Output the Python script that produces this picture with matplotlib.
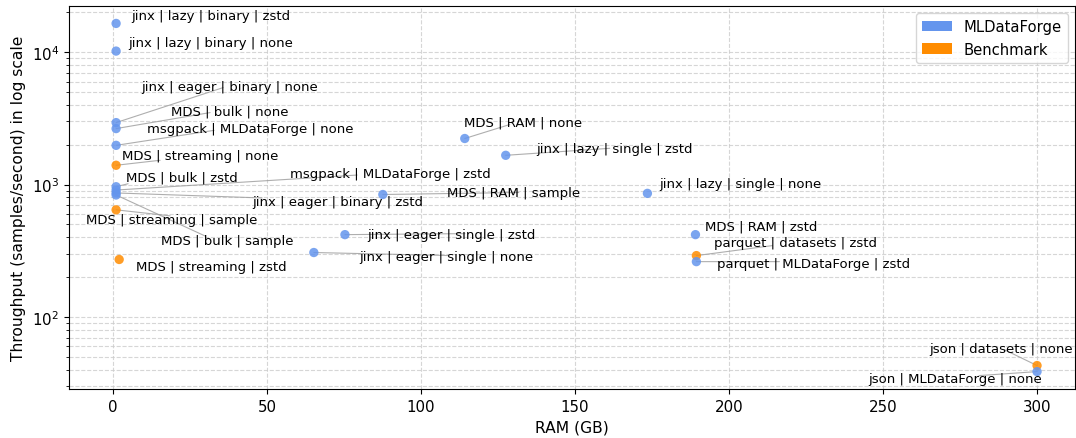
import matplotlib
matplotlib.use("Agg")
import matplotlib.pyplot as plt
from matplotlib.patches import Patch

# Loader configurations: label, RAM used (GB), throughput (samples/s), source
labels = [
    "jinx | lazy | binary | zstd",
    "jinx | lazy | binary | none",
    "jinx | eager | binary | none",
    "MDS | bulk | none",
    "msgpack | MLDataForge | none",
    "MDS | streaming | none",
    "MDS | bulk | zstd",
    "msgpack | MLDataForge | zstd",
    "jinx | eager | binary | zstd",
    "MDS | bulk | sample",
    "MDS | streaming | sample",
    "MDS | streaming | zstd",
    "MDS | RAM | none",
    "jinx | lazy | single | zstd",
    "MDS | RAM | sample",
    "jinx | lazy | single | none",
    "jinx | eager | single | zstd",
    "jinx | eager | single | none",
    "MDS | RAM | zstd",
    "parquet | datasets | zstd",
    "parquet | MLDataForge | zstd",
    "json | datasets | none",
    "json | MLDataForge | none",
]
ram_gb = [1.0, 1.0, 1.0, 1.0, 1.0, 1.0, 1.0, 1.0, 1.0, 1.0, 1.0, 2.0,
          114.2, 127.5, 87.6, 173.5, 75.3, 65.2, 189.1, 189.4, 189.4, 300.0, 300.0]
throughput = [16500, 10200, 2940, 2650, 1980, 1400, 964, 910, 865, 835, 645, 272,
              2230, 1665, 842, 859, 419, 307, 419, 291, 262, 43.0, 38.7]
source = ["MLDataForge", "MLDataForge", "MLDataForge", "MLDataForge", "MLDataForge",
          "Benchmark", "MLDataForge", "MLDataForge", "MLDataForge", "MLDataForge",
          "Benchmark", "Benchmark", "MLDataForge", "MLDataForge", "MLDataForge",
          "MLDataForge", "MLDataForge", "MLDataForge", "MLDataForge", "Benchmark",
          "MLDataForge", "Benchmark", "MLDataForge"]

colors = {"MLDataForge": "cornflowerblue", "Benchmark": "darkorange"}

# Label placement (pixel offsets from each point) and leader-line end offsets
label_offsets = [(95, 8), (95, 9), (114, 36), (114, 18), (134, 17), (84, 10),
                 (66, 10), (274, 17), (222, -9), (111, -46), (56, -10), (92, -7),
                 (58, 17), (109, 7), (131, 2), (93, 10), (106, 0), (132, -4),
                 (66, 9), (99, 13), (117, -2), (-36, 17), (-82, -7)]
leader_ends = [None, None, (107, 35), (94, 16), (98, 15), (44, 5),
               (12, 3), (241, 15), (146, -5), (89, -41), (54, -6), None,
               (45, 14), (104, 7), (136, 2), None, (120, 1), (134, -3),
               None, (76, 10), (83, 0), (-33, 16), (-58, -4)]

fig = plt.figure(figsize=(10.76, 4.39), dpi=100)
ax = fig.add_axes([0.0641, 0.1116, 0.9349, 0.8724])

ax.scatter(ram_gb, throughput, c=[colors[s] for s in source], s=45,
           alpha=0.85, edgecolors="none", zorder=3)
ax.set_yscale("log")
ax.set_xlim(-14.3, 312.3)

for lab, x, y, off, end in zip(labels, ram_gb, throughput, label_offsets, leader_ends):
    if end is not None:
        ax.annotate("", xy=(x, y), xytext=end, textcoords="offset pixels",
                    arrowprops=dict(arrowstyle="-", color="#9a9a9a", lw=0.8,
                                    shrinkA=0, shrinkB=0, alpha=0.8),
                    zorder=2)
    ax.annotate(lab, xy=(x, y), xytext=off, textcoords="offset pixels",
                ha="center", va="center", fontsize=9.5, color="black", zorder=4)

ax.grid(True, which="both", linestyle="--", color="#cccccc", alpha=0.8, lw=0.8)
ax.set_axisbelow(True)
ax.tick_params(axis="both", which="major", labelsize=10.8)
ax.set_xlabel("RAM (GB)", fontsize=11.2)
ax.set_ylabel("Throughput (samples/second) in log scale", fontsize=11.2)

handles = [Patch(facecolor=colors["MLDataForge"], label="MLDataForge"),
           Patch(facecolor=colors["Benchmark"], label="Benchmark")]
ax.legend(handles=handles, loc="upper right", fontsize=10.6)

fig.savefig("out.png", dpi=100)
